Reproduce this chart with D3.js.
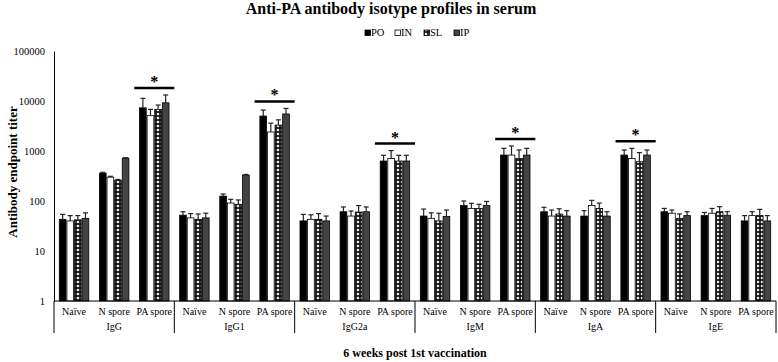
<!DOCTYPE html>
<html>
<head>
<meta charset="utf-8">
<script src="https://cdn.jsdelivr.net/npm/d3@7"></script>
<style>
  body { margin: 0; background: #fff; }
</style>
</head>
<body>
<div id="chart"></div>
<script>
// isotype groups and the three immunisation categories in each
const groups = ["IgG", "IgG1", "IgG2a", "IgM", "IgA", "IgE"];
const categories = ["Naïve", "N spore", "PA spore"];
const series = ["PO", "IN", "SL", "IP"];

// mean titers, 18 values per route (group x category)
const PO = [43, 360, 7300, 52, 125, 5000, 40, 61, 630, 50, 81, 830, 61, 50, 830, 61, 51, 40];
const IN = [40, 300, 5100, 46, 91, 2400, 43, 50, 710, 45, 71, 830, 50, 81, 710, 57, 57, 51];
const SL = [42, 260, 6800, 43, 86, 3300, 43, 60, 630, 40, 71, 710, 55, 71, 610, 45, 61, 51];
const IP = [45, 720, 9200, 46, 330, 5500, 40, 61, 630, 49, 81, 830, 50, 50, 830, 51, 52, 40];

// top of error bar (mean + SD)
const PO_err = [54, 375, 11300, 61, 138, 6600, 54, 76, 820, 69, 100, 1130, 75, 64, 1050, 71, 59, 51];
const IN_err = [51, 312, 6800, 56, 108, 3600, 53, 63, 1020, 58, 90, 1260, 66, 103, 1130, 66, 71, 61];
const SL_err = [51, 270, 8300, 55, 105, 4200, 56, 81, 820, 57, 86, 1050, 70, 91, 930, 55, 77, 68];
const IP_err = [58, 735, 13200, 57, 340, 7100, 50, 76, 820, 66, 98, 1130, 64, 61, 1050, 61, 61, 51];

// groups marked significant (bar over PA spore)
const sigGroups = ["IgG", "IgG1", "IgG2a", "IgM", "IgA"];

const yTicks = [1, 10, 100, 1000, 10000, 100000];

const width = 778, height = 362;
const marginLeft = 54, marginRight = 2, marginTop = 51, marginBottom = 61;
const serif = "'Liberation Serif', 'Times New Roman', Times, serif";

const svg = d3.select("#chart").append("svg")
    .attr("width", width)
    .attr("height", height)
    .attr("viewBox", [0, 0, width, height]);

// SL cross-hatch pattern
const defs = svg.append("defs");
const pat = defs.append("pattern")
    .attr("id", "checks")
    .attr("patternUnits", "userSpaceOnUse")
    .attr("width", 4).attr("height", 4);
pat.append("rect").attr("width", 4).attr("height", 4).attr("fill", "#111");
pat.append("path").attr("d", "M2,0.4L3.6,2L2,3.6L0.4,2Z").attr("fill", "#fff");

const fills = { PO: "#000", IN: "#fff", SL: "url(#checks)", IP: "#444" };
const means = { PO, IN, SL, IP };
const errs = { PO: PO_err, IN: IN_err, SL: SL_err, IP: IP_err };

// rows: one per bar
const keys = [];
groups.forEach(g => categories.forEach(c => keys.push(g + "|" + c)));
const rows = [];
series.forEach(s => keys.forEach((k, i) => rows.push({ key: k, s, v: means[s][i], e: errs[s][i] })));

const x = d3.scaleBand(keys, [marginLeft, width - marginRight]);
const xs = d3.scaleBand(series, [0, x.bandwidth()]).paddingInner(0.12).paddingOuter(0.7);
const y = d3.scaleLog([1, 100000], [height - marginBottom, marginTop]);

// y axis
svg.append("g")
    .attr("transform", `translate(${marginLeft},0)`)
    .call(d3.axisLeft(y).tickValues(yTicks).tickFormat(d3.format("d")).tickSize(0).tickPadding(9))
    .call(g => g.select(".domain").attr("stroke", "#000"))
    .call(g => g.selectAll("text").attr("font-size", 10.5).attr("fill", "#000"));

// bars
svg.append("g")
    .selectAll("rect")
    .data(rows)
    .join("rect")
    .attr("x", d => x(d.key) + xs(d.s))
    .attr("y", d => y(d.v))
    .attr("width", xs.bandwidth())
    .attr("height", d => y(1) - y(d.v))
    .attr("fill", d => fills[d.s])
    .attr("stroke", "#000")
    .attr("stroke-width", 0.8);

// error bars
const eb = svg.append("g").attr("stroke", "#222").attr("stroke-width", 1.2);
eb.selectAll("line.v")
    .data(rows)
    .join("line")
    .attr("class", "v")
    .attr("x1", d => x(d.key) + xs(d.s) + xs.bandwidth() / 2)
    .attr("x2", d => x(d.key) + xs(d.s) + xs.bandwidth() / 2)
    .attr("y1", d => y(d.v))
    .attr("y2", d => y(d.e));
eb.selectAll("line.c")
    .data(rows)
    .join("line")
    .attr("class", "c")
    .attr("x1", d => x(d.key) + xs(d.s) + xs.bandwidth() / 2 - 2.5)
    .attr("x2", d => x(d.key) + xs(d.s) + xs.bandwidth() / 2 + 2.5)
    .attr("y1", d => y(d.e))
    .attr("y2", d => y(d.e));

// x axis: baseline, category labels, group labels, separators
const base = y(1);
svg.append("line")
    .attr("x1", marginLeft).attr("x2", width - marginRight)
    .attr("y1", base).attr("y2", base)
    .attr("stroke", "#000");

svg.append("g")
    .selectAll("text")
    .data(keys)
    .join("text")
    .attr("x", d => x(d) + x.bandwidth() / 2)
    .attr("y", base + 14)
    .attr("text-anchor", "middle")
    .attr("font-size", 10)
    .text(d => d.split("|")[1]);

const gw = x.bandwidth() * categories.length;
svg.append("g")
    .selectAll("text")
    .data(groups)
    .join("text")
    .attr("x", (d, i) => marginLeft + gw * i + gw / 2)
    .attr("y", base + 29)
    .attr("text-anchor", "middle")
    .attr("font-size", 10)
    .text(d => d);

svg.append("g")
    .selectAll("line")
    .data(d3.range(groups.length + 1))
    .join("line")
    .attr("x1", i => marginLeft + gw * i)
    .attr("x2", i => marginLeft + gw * i)
    .attr("y1", base)
    .attr("y2", base + 32)
    .attr("stroke", "#000");

// significance bars
const sig = svg.append("g");
sigGroups.forEach(g => {
  const k = g + "|PA spore";
  const idx = keys.indexOf(k);
  const top = d3.min(series, s => y(errs[s][idx]));
  const ly = top - 7;
  sig.append("line")
      .attr("x1", x(k)).attr("x2", x(k) + x.bandwidth())
      .attr("y1", ly).attr("y2", ly)
      .attr("stroke", "#000").attr("stroke-width", 2.5);
  sig.append("text")
      .attr("x", x(k) + x.bandwidth() / 2)
      .attr("y", ly - 1)
      .attr("text-anchor", "middle")
      .attr("font-size", 16)
      .attr("font-weight", "bold")
      .text("*");
});

// title
svg.append("text")
    .attr("x", 391)
    .attr("y", 14)
    .attr("text-anchor", "middle")
    .attr("font-size", 16)
    .attr("font-weight", "bold")
    .text("Anti-PA antibody isotype profiles in serum");

// legend
const legX = [365, 395, 424, 454];
const leg = svg.append("g");
series.forEach((s, i) => {
  leg.append("rect")
      .attr("x", legX[i]).attr("y", 30)
      .attr("width", 5.5).attr("height", 5.5)
      .attr("fill", fills[s]).attr("stroke", "#000").attr("stroke-width", 0.8);
  leg.append("text")
      .attr("x", legX[i] + 6)
      .attr("y", 36)
      .attr("font-size", 10.5)
      .text(s);
});

// axis titles
svg.append("text")
    .attr("transform", `translate(17,${(marginTop + base) / 2 - 4}) rotate(-90)`)
    .attr("text-anchor", "middle")
    .attr("font-size", 13)
    .attr("font-weight", "bold")
    .text("Antibody endpoint titer");

svg.append("text")
    .attr("x", (marginLeft + width - marginRight) / 2)
    .attr("y", 357)
    .attr("text-anchor", "middle")
    .attr("font-size", 12)
    .attr("font-weight", "bold")
    .text("6 weeks post 1st vaccination");

// every label in a Times-like serif
svg.selectAll("text").style("font-family", serif);
</script>
</body>
</html>
